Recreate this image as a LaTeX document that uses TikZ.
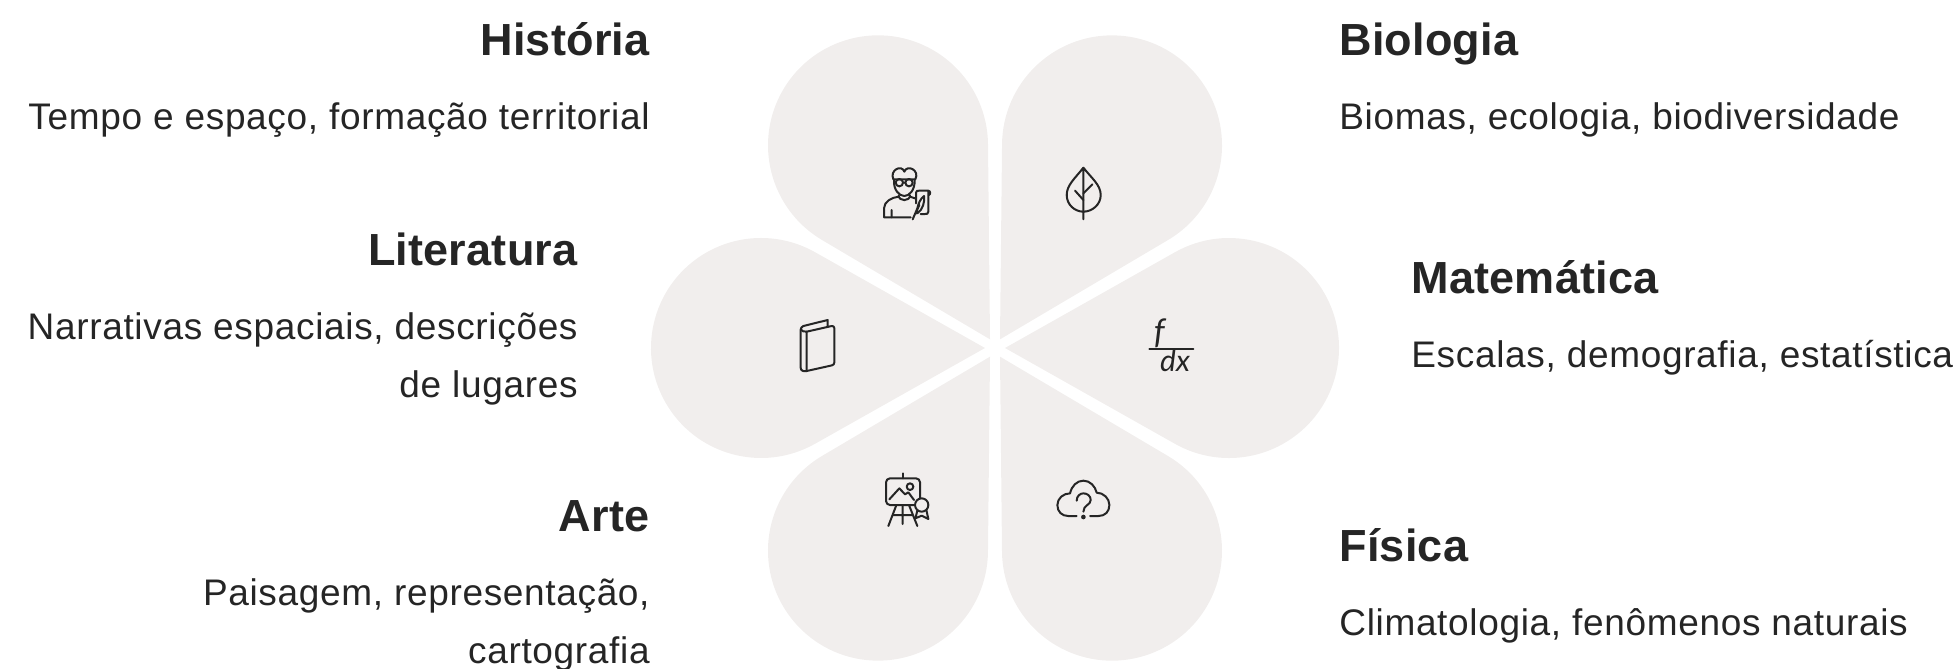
\documentclass[tikz,border=0pt]{standalone}
\usepackage{fontspec}
\setmainfont{Liberation Sans}[LetterSpace=1.8,BoldFeatures={LetterSpace=0.5}]
\newfontfamily\fracfont{Lato}
\definecolor{petalGray}{RGB}{241,238,237}
\definecolor{inkDark}{RGB}{37,37,37}
\usetikzlibrary{positioning}
\tikzset{
  subject/.style={font=\fontsize{22.5}{27}\selectfont\bfseries, text=inkDark, inner sep=0pt},
  topics/.style={font=\fontsize{18.5}{29}\selectfont, text=inkDark, inner sep=0pt},
  iconline/.style={draw=inkDark, line width=1pt, line cap=round, line join=round},
  cropunits/.style={x=0.1667pt, y=-0.1667pt}
}
\begin{document}
\begin{tikzpicture}[x=0.5pt,y=-0.5pt]
  \useasboundingbox (0,0) rectangle (1955,669);
  \foreach \ang in {0,60,...,300}
    \fill[petalGray, shift={(995,348)}, rotate=\ang]
      (10,0) -- (180,-95.8) arc[start angle=-119.41, end angle=119.41, radius=110] -- cycle;

  \node[subject, anchor=base east] (historia) at (650,55) {História};
  \node[topics, anchor=base east] (historiaText) at (650,129) {Tempo e espaço, formação territorial};
  \node[subject, anchor=base east] (literatura) at (578,265) {Literatura};
  \node[topics, anchor=base east, align=right] (literaturaText) at (578,397) {Narrativas espaciais, descrições\\de lugares};
  \node[subject, anchor=base east] (arte) at (650,531) {Arte};
  \node[topics, anchor=base east, align=right] (arteText) at (650,663) {Paisagem, representação,\\cartografia};
  \node[subject, anchor=base west] (biologia) at (1339,55) {Biologia};
  \node[topics, anchor=base west] (biologiaText) at (1339,129) {Biomas, ecologia, biodiversidade};
  \node[subject, anchor=base west] (matematica) at (1411,293) {Matemática};
  \node[topics, anchor=base west] (matematicaText) at (1411,367) {Escalas, demografia, estatística};
  \node[subject, anchor=base west] (fisica) at (1339,561) {Física};
  \node[topics, anchor=base west] (fisicaText) at (1339,635) {Climatologia, fenômenos naturais};

  \begin{scope}[shift={(860,140)}, cropunits]
    \draw[iconline] (100,118) .. controls (88,90) and (125,72) .. (133,95) .. controls (141,72) and (180,90) .. (166,118) -- cycle;
    \draw[iconline] (118,128) circle[radius=11] (147,128) circle[radius=11] (129,128) -- (136,128);
    \draw[iconline] (102,120) .. controls (100,150) and (118,168) .. (133,168) .. controls (148,168) and (165,150) .. (164,120);
    \draw[iconline] (116,166) .. controls (116,185) and (150,185) .. (150,166);
    \draw[iconline] (152,232) -- (72,232) -- (72,205) .. controls (72,185) and (95,172) .. (116,170);
    \draw[iconline] (95,210) -- (95,232) (150,170) -- (165,175);
    \draw[iconline] (168,190) -- (168,158) .. controls (168,152) and (172,152) .. (178,152) -- (205,152) -- (205,215) .. controls (205,222) and (200,222) .. (195,222) -- (182,222);
    \draw[iconline] (205,152) .. controls (212,152) and (212,165) .. (206,165);
    \draw[iconline] (158,238) -- (172,205) .. controls (175,190) and (182,175) .. (192,168) .. controls (195,185) and (188,210) .. (172,220) (178,195) -- (166,222);
  \end{scope}

  \begin{scope}[shift={(860,140)}, cropunits]
    \draw[iconline] (670,83) .. controls (645,115) and (620,135) .. (620,165) .. controls (620,195) and (645,215) .. (670,215) .. controls (695,215) and (722,195) .. (722,165) .. controls (722,135) and (695,115) .. (670,83) -- (670,238);
    \draw[iconline] (645,152) -- (670,180) (697,133) -- (670,160);
  \end{scope}

  \begin{scope}[shift={(780,300)}, cropunits]
    \draw[iconline] (80,95) -- (155,78) .. controls (160,77) and (163,80) .. (163,85) -- (163,187) .. controls (163,192) and (160,195) .. (156,196) -- (80,213) .. controls (70,215) and (62,212) .. (62,203) -- (62,90) .. controls (62,85) and (65,80) .. (70,78) -- (143,60) -- (143,78);
    \draw[iconline] (80,95) -- (80,213) (80,95) .. controls (72,97) and (65,92) .. (62,88);
    \node[inner sep=0pt, anchor=base, text=inkDark, font=\fontsize{17}{20}\selectfont\fracfont\itshape] (fracTop) at (1138,130) {f};
    \node[inner sep=0pt, anchor=base, text=inkDark, font=\fontsize{15}{18}\selectfont\fracfont\itshape] (fracBottom) at (1185,215) {dx};
    \draw[iconline] (1108,147) -- (1240,147);
  \end{scope}

  \begin{scope}[shift={(860,450)}, cropunits]
    \draw[iconline, rounded corners=2pt] (78,85) rectangle (180,165);
    \draw[iconline] (128,70) -- (128,85);
    \draw[iconline] (88,148) -- (118,115) -- (135,133) -- (145,127) -- (162,150) (150,110) circle[radius=10];
    \draw[iconline] (108,168) -- (85,228) (148,168) -- (172,228) (128,168) -- (128,222) (100,195) -- (158,195);
    \draw[iconline] (172,182) -- (166,205) -- (185,197) -- (205,207) -- (199,180);
    \draw[iconline, fill=petalGray] (185,165) circle[radius=20];
  \end{scope}

  \begin{scope}[shift={(860,450)}, cropunits]
    \draw[iconline] (650,198) -- (625,198) .. controls (605,198) and (592,185) .. (592,165) .. controls (592,145) and (610,130) .. (630,130) .. controls (635,108) and (650,92) .. (670,92) .. controls (690,92) and (705,108) .. (710,128) .. controls (730,128) and (748,145) .. (748,165) .. controls (748,185) and (735,198) .. (715,198) -- (690,198);
    \draw[iconline] (650,152) .. controls (650,138) and (660,130) .. (670,130) .. controls (682,130) and (692,138) .. (692,150) .. controls (692,165) and (670,165) .. (670,185);
    \fill[inkDark] (670,201) circle[radius=7];
  \end{scope}
\end{tikzpicture}
\end{document}
